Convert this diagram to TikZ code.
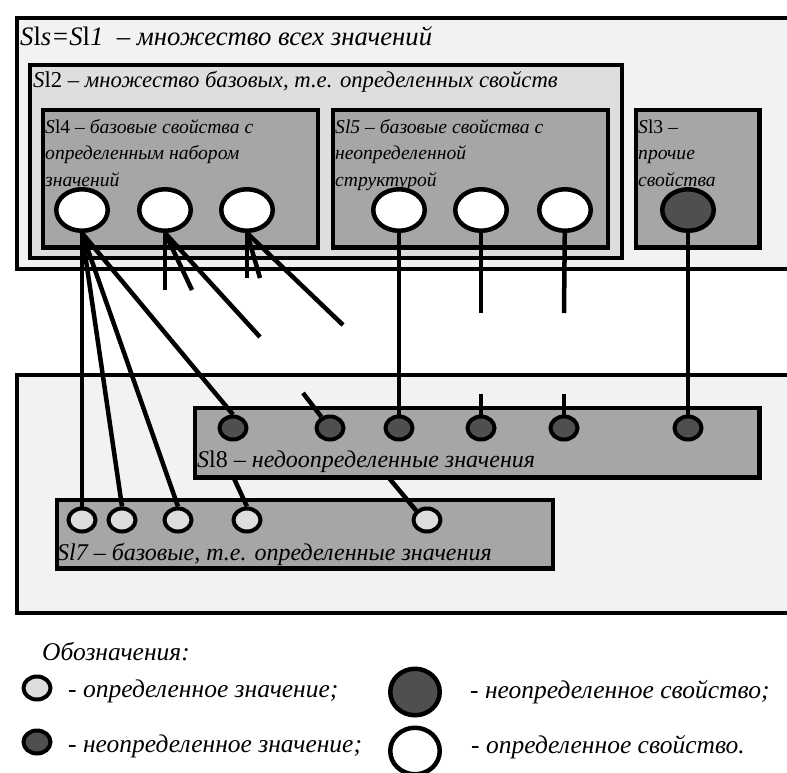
\documentclass[tikz,border=0pt]{standalone}
\usepackage{fontspec}
\setmainfont{Liberation Serif}
\usetikzlibrary{shapes.geometric, positioning}
\pgfdeclarelayer{back}
\pgfdeclarelayer{under}
\pgfdeclarelayer{boxes}
\pgfdeclarelayer{links}
\pgfsetlayers{back,under,boxes,links,main}
\definecolor{pale}{gray}{0.95}
\definecolor{light}{gray}{0.87}
\definecolor{setgray}{gray}{0.65}
\definecolor{dark}{gray}{0.31}

\begin{document}
\begin{tikzpicture}[x=1pt, y=-1pt]
    \tikzstyle{set} = [rectangle, draw, line width=4.5pt, anchor=north west, inner sep=0pt]
    \tikzstyle{title} = [anchor=base west, inner sep=0pt, align=left, font=\fontsize{19.6}{26.5}\selectfont\itshape]
    \tikzstyle{legend} = [anchor=base west, inner sep=0pt, font=\fontsize{25.5}{30}\selectfont\itshape]
    \tikzstyle{prop} = [ellipse, draw, line width=4.5pt, fill=white, minimum width=51.5pt, minimum height=41.5pt, inner sep=0pt]
    \tikzstyle{val} = [ellipse, draw, line width=4pt, minimum width=27pt, minimum height=23pt, inner sep=0pt]
    \tikzstyle{line} = [draw, line width=4.5pt]

    \useasboundingbox (0,0) rectangle (787,772);

    \begin{pgfonlayer}{back}
    \node [set, fill=pale, minimum width=785.5pt, minimum height=251pt] (s1) at (14.5,15.5) {};
    \node [set, fill=light, minimum width=592pt, minimum height=193pt] (s2) at (27.5,62.5) {};
    \node [set, fill=setgray, minimum width=275pt, minimum height=137.5pt] (s4) at (40.5,107.5) {};
    \node [set, fill=setgray, minimum width=275pt, minimum height=137.5pt] (s5) at (330.5,107.5) {};
    \node [set, fill=setgray, minimum width=123.5pt, minimum height=137.5pt] (s3) at (633.5,107.5) {};
    \node [set, fill=pale, minimum width=785.5pt, minimum height=238pt] (s6) at (14.5,372.5) {};
    \node [set, fill=setgray, minimum width=496pt, minimum height=68.5pt] (s7) at (54.5,497.5) {};

    \node [title, font=\fontsize{26.7}{30}\selectfont\itshape] at (20,45) {S{\upshape l}s=S{\upshape l}1 \ – множество всех значений};
    \node [title, font=\fontsize{22.7}{26}\selectfont\itshape] at (33,87) {S{\upshape l2} – множество базовых, т.е. определенных свойств};
    \node [title] at (45,186) {S{\upshape l4} – базовые свойства с\\определенным набором\\значений};
    \node [title] at (335,186) {Sl5 – базовые свойства с\\неопределенной\\структурой};
    \node [title] at (638,186) {S{\upshape l3} –\\прочие\\свойства};
    \node [title, font=\fontsize{24}{28}\selectfont\itshape] at (57,560) {Sl7 – базовые, т.е. определенные значения};
    \end{pgfonlayer}

    \begin{pgfonlayer}{boxes}
    \node [set, fill=setgray, minimum width=564.5pt, minimum height=69.5pt] (s8) at (192.5,405.5) {};
    \node [title, font=\fontsize{24}{28}\selectfont\itshape] at (197,467) {S{\upshape l8} – недоопределенные значения};
    \end{pgfonlayer}

    % properties
    \node [prop] (e1) at (82,210) {};
    \node [prop] (e2) at (165,210) {};
    \node [prop] (e3) at (247,210) {};
    \node [prop] (f1) at (399,210) {};
    \node [prop] (f2) at (481,210) {};
    \node [prop] (f3) at (565,210) {};
    \node [prop, fill=dark] (g1) at (688,210) {};

    % values
    \node [val, fill=dark] (d1) at (233,428) {};
    \node [val, fill=dark] (d2) at (330,428) {};
    \node [val, fill=dark] (d3) at (399,428) {};
    \node [val, fill=dark] (d4) at (481,428) {};
    \node [val, fill=dark] (d5) at (564,428) {};
    \node [val, fill=dark] (d6) at (688,428) {};
    \node [val, fill=light] (v1) at (82,520) {};
    \node [val, fill=light] (v2) at (122,520) {};
    \node [val, fill=light] (v3) at (178,520) {};
    \node [val, fill=light] (v4) at (247,520) {};
    \node [val, fill=light] (v5) at (427,520) {};

    \coordinate (e2a) at (165,290);
    \coordinate (e2b) at (192,290);
    \coordinate (e2c) at (260,337);
    \coordinate (e3a) at (247,278);
    \coordinate (e3b) at (260,278);
    \coordinate (e3c) at (343,325);
    \coordinate (d2a) at (303,393);
    \coordinate (f2a) at (481,313);
    \coordinate (d4a) at (481,394);
    \coordinate (f3a) at (564,313);
    \coordinate (d5a) at (564,394);
    \coordinate (d1b) at (231,472);
    \coordinate (d2b) at (384,472);

    \begin{pgfonlayer}{links}
    \path [line] (e1.south) -- (v1.north);
    \path [line] (e1.south) -- (v2.north);
    \path [line] (e1.south) -- (v3.north);
    \path [line] (e1.south) -- (d1.north);
    \path [line] (e2.south) -- (e2a);
    \path [line] (e2.south) -- (e2b);
    \path [line] (e2.south) -- (e2c);
    \path [line] (e3.south) -- (e3a);
    \path [line] (e3.south) -- (e3b);
    \path [line] (e3.south) -- (e3c);
    \path [line] (d2a) -- (d2);
    \path [line] (f1) -- (d3);
    \path [line] (f2) -- (f2a);
    \path [line] (d4a) -- (d4);
    \path [line] (f3) -- (f3a);
    \path [line] (d5a) -- (d5);
    \path [line] (g1) -- (d6);
    \end{pgfonlayer}

    \begin{pgfonlayer}{under}
    \path [line] (d1b) -- (v4.north);
    \path [line] (d2b) -- (v5.north west);
    \end{pgfonlayer}

    % legend
    \node [legend] (leg) at (42,660) {Обозначения:};
    \node [val, fill=light] (k1) at (37,688) {};
    \node [legend] (k1t) at (68,697) {- определенное значение;};
    \node [val, fill=dark] (k2) at (37,742) {};
    \node [legend] (k2t) at (68,752) {- неопределенное значение;};
    \node [prop, fill=dark, minimum width=49.5pt, minimum height=46.5pt] (k3) at (415,692) {};
    \node [legend] (k3t) at (470,698) {- неопределенное свойство;};
    \node [prop, minimum width=49.5pt, minimum height=46.5pt] (k4) at (415,751) {};
    \node [legend] (k4t) at (471,753) {- определенное свойство.};
\end{tikzpicture}
\end{document}
